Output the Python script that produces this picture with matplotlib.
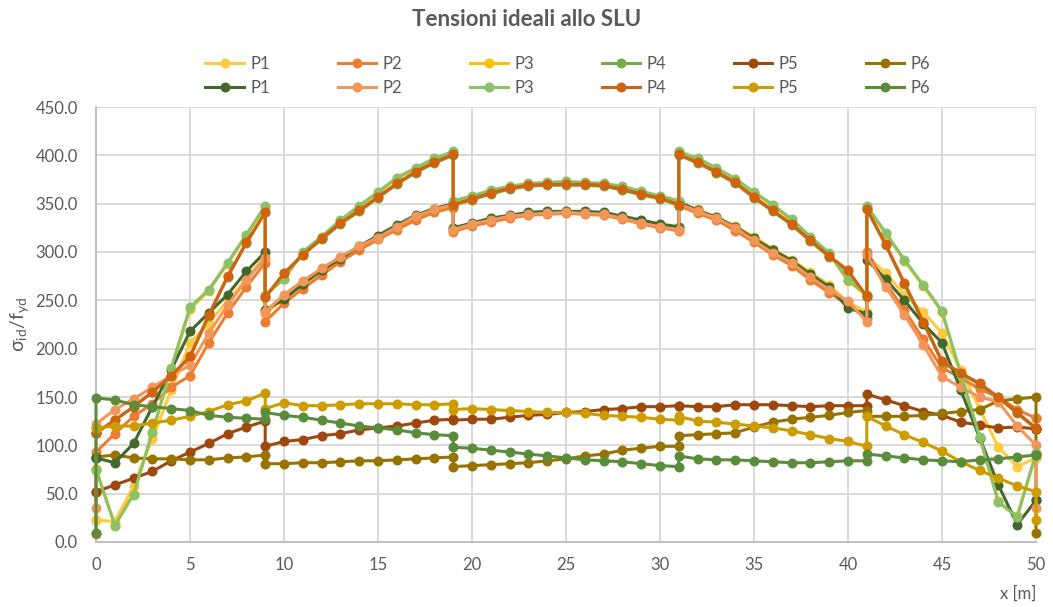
import matplotlib
matplotlib.use("Agg")
import matplotlib.pyplot as plt
from matplotlib.ticker import FormatStrFormatter

# x positions along the beam (repeated x = section with a jump)
x_pos = [0, 0, 1, 2, 3, 4, 5, 6, 7, 8, 9, 9, 10, 11, 12, 13, 14, 15, 16, 17, 18,
         19, 19, 20, 21, 22, 23, 24, 25, 26, 27, 28, 29, 30, 31, 31, 32, 33, 34,
         35, 36, 37, 38, 39, 40, 41, 41, 42, 43, 44, 45, 46, 47, 48, 49, 50, 50]

labels = ["P1", "P2", "P3", "P4", "P5", "P6"]

# ---- group 1 ----
g1_P1 = [23, 23, 21, 58, 107, 157, 206, 226, 250, 272, 296, 236,
         252, 265, 279, 292, 304, 315, 326, 336, 343, 348, 322,
         328, 333, 337, 340, 341, 342, 341, 340, 336, 332, 328, 324, 350,
         344, 336, 327, 316, 303, 292, 279, 266, 248, 238, 296,
         278, 256, 238, 216, 178, 138, 98, 78, 87, 87]
g1_P2 = [8, 93, 112, 130, 143, 160, 172, 206, 237, 264, 289, 228,
         247, 262, 276, 290, 302, 313, 323, 333, 341, 346, 321,
         327, 331, 335, 338, 339, 340, 339, 338, 334, 329, 325, 322, 348,
         340, 333, 322, 310, 297, 286, 271, 258, 245, 232, 300,
         268, 240, 210, 180, 170, 158, 150, 137, 128, 128]
g1_P3 = [76, 76, 18, 50, 113, 179, 241, 260, 288, 317, 347, 255,
         272, 299, 315, 332, 347, 361, 376, 386, 396, 403, 352,
         357, 363, 367, 370, 371, 372, 371, 370, 367, 362, 357, 352, 403,
         396, 386, 375, 361, 348, 333, 315, 298, 270, 255, 347,
         319, 291, 265, 238, 173, 108, 42, 27, 91, 91]
g1_P4 = [113, 113, 126, 140, 155, 172, 191, 234, 274, 309, 341, 253,
         278, 297, 313, 329, 342, 356, 370, 382, 392, 400, 348,
         354, 360, 365, 368, 369, 369, 369, 368, 364, 359, 355, 348, 400,
         392, 382, 371, 356, 342, 328, 311, 295, 280, 253, 344,
         307, 267, 227, 186, 174, 163, 149, 133, 117, 117]
g1_P5 = [52, 52, 59, 66, 73, 84, 93, 102, 112, 119, 125, 99,
         104, 106, 110, 112, 116, 118, 120, 123, 126, 127, 126,
         127, 127, 129, 131, 132, 134, 135, 137, 138, 140, 140, 141, 141,
         140, 140, 142, 142, 142, 141, 140, 141, 141, 141, 153,
         147, 141, 135, 131, 124, 121, 118, 119, 117, 117]
g1_P6 = [88, 88, 90, 87, 86, 86, 85, 85, 87, 88, 90, 81,
         81, 82, 82, 83, 84, 84, 85, 86, 87, 88, 78,
         79, 80, 81, 82, 84, 86, 89, 91, 95, 97, 99, 99, 110,
         111, 112, 113, 119, 124, 127, 129, 131, 134, 136, 130,
         130, 130, 131, 133, 135, 137, 146, 148, 150, 9]

# ---- group 2 ----
g2_P1 = [87, 87, 82, 102, 140, 178, 218, 237, 256, 280, 300, 240,
         251, 267, 281, 293, 306, 317, 328, 338, 345, 350, 325,
         330, 335, 338, 341, 342, 342, 342, 341, 337, 333, 329, 326, 352,
         343, 336, 326, 314, 302, 291, 277, 264, 242, 236, 292,
         272, 250, 226, 206, 157, 108, 59, 18, 43, 43]
g2_P2 = [35, 122, 137, 148, 160, 172, 183, 216, 245, 271, 294, 238,
         256, 270, 283, 295, 306, 315, 326, 337, 344, 349, 323,
         329, 333, 337, 339, 340, 341, 340, 339, 335, 330, 326, 323, 350,
         342, 335, 325, 312, 299, 289, 274, 261, 249, 228, 297,
         264, 235, 204, 171, 160, 150, 145, 120, 100, 35]
g2_P3 = [75, 75, 17, 49, 114, 180, 243, 261, 289, 318, 348, 256,
         272, 300, 316, 333, 348, 362, 377, 387, 397, 404, 353,
         358, 364, 368, 371, 372, 373, 372, 371, 368, 363, 358, 353, 404,
         397, 387, 376, 362, 349, 334, 316, 299, 271, 256, 348,
         320, 292, 266, 239, 174, 109, 41, 26, 92, 92]
g2_P4 = [113, 113, 126, 140, 155, 172, 192, 235, 275, 310, 341, 253,
         278, 297, 314, 330, 343, 357, 371, 383, 393, 401, 349,
         355, 361, 366, 369, 370, 370, 370, 369, 365, 360, 356, 349, 401,
         393, 383, 372, 357, 343, 329, 312, 296, 281, 254, 345,
         308, 268, 228, 187, 175, 164, 150, 134, 118, 118]
g2_P5 = [118, 118, 120, 120, 123, 126, 130, 135, 142, 146, 154, 138,
         144, 141, 141, 142, 143, 143, 143, 142, 142, 143, 137,
         138, 137, 136, 135, 134, 134, 133, 131, 130, 129, 127, 126, 130,
         125, 124, 122, 120, 118, 115, 111, 107, 104, 99, 130,
         120, 111, 103, 94, 83, 74, 66, 58, 52, 23]
g2_P6 = [9, 149, 147, 142, 140, 138, 136, 131, 129, 128, 127, 134,
         131, 129, 126, 123, 120, 118, 116, 113, 111, 110, 98,
         97, 95, 93, 91, 89, 87, 85, 84, 83, 81, 79, 78, 89,
         86, 85, 85, 84, 83, 82, 82, 83, 84, 84, 91,
         89, 87, 85, 84, 83, 85, 86, 88, 90, 90]

group1 = [g1_P1, g1_P2, g1_P3, g1_P4, g1_P5, g1_P6]
group2 = [g2_P1, g2_P2, g2_P3, g2_P4, g2_P5, g2_P6]
colors1 = ["#FFC940", "#ED7D31", "#FFC000", "#70AD47", "#9E480E", "#997300"]
colors2 = ["#43682B", "#F1975A", "#8BC168", "#D2620F", "#CC9C00", "#5A8C3B"]

y_ticks = [0, 50, 100, 150, 200, 250, 300, 350, 400, 450]
x_ticks = [0, 5, 10, 15, 20, 25, 30, 35, 40, 45, 50]

plt.rcParams["font.family"] = ["Lato", "DejaVu Sans"]
txt = "#595959"
grid = "#D9D9D9"

fig = plt.figure(figsize=(10.53, 6.07), dpi=100)
ax = fig.add_axes([96 / 1053, 1 - 542 / 607, (1036 - 96) / 1053, (542 - 107) / 607])

h1, h2 = [], []
for vals, c, lab in zip(group1, colors1, labels):
    ln, = ax.plot(x_pos, vals, color=c, lw=2.2, marker="o", ms=7.2, mew=0,
                  label=lab, clip_on=False, zorder=3)
    h1.append(ln)
for vals, c, lab in zip(group2, colors2, labels):
    ln, = ax.plot(x_pos, vals, color=c, lw=2.2, marker="o", ms=7.2, mew=0,
                  label=lab, clip_on=False, zorder=4)
    h2.append(ln)

ax.set_xlim(0, 50)
ax.set_ylim(0, 450)
ax.set_xticks(x_ticks)
ax.set_yticks(y_ticks)
ax.yaxis.set_major_formatter(FormatStrFormatter("%.1f"))
ax.grid(True, color=grid, lw=1.4, zorder=0)
ax.set_axisbelow(True)
for s in ["top", "right"]:
    ax.spines[s].set_visible(False)
for s in ["left", "bottom"]:
    ax.spines[s].set_color("#BFBFBF")
    ax.spines[s].set_linewidth(1.4)
ax.tick_params(axis="y", length=0, labelsize=12, colors=txt, pad=13)
ax.tick_params(axis="x", length=0, labelsize=12, colors=txt, pad=11)

ax.set_ylabel(r"$\mathregular{\sigma_{id}/f_{yd}}$", fontsize=14, color=txt, labelpad=3)
ax.set_xlabel("x [m]", fontsize=12, color=txt, loc="right", labelpad=9)

fig.suptitle("Tensioni ideali allo SLU", fontsize=16, fontweight="bold",
             color=txt, y=1 - 19 / 607, va="center")

handles, labs = [], []
for a, b in zip(h1, h2):
    handles += [a, b]
    labs += [a.get_label(), b.get_label()]
fig.legend(handles, labs, ncol=6, loc="center", bbox_to_anchor=(568 / 1053, 1 - 76 / 607),
           frameon=False, fontsize=12, labelcolor=txt, handlelength=2.3,
           handletextpad=0.4, columnspacing=4.05, labelspacing=0.45, markerscale=1.0)

fig.savefig("out.png", dpi=100)
